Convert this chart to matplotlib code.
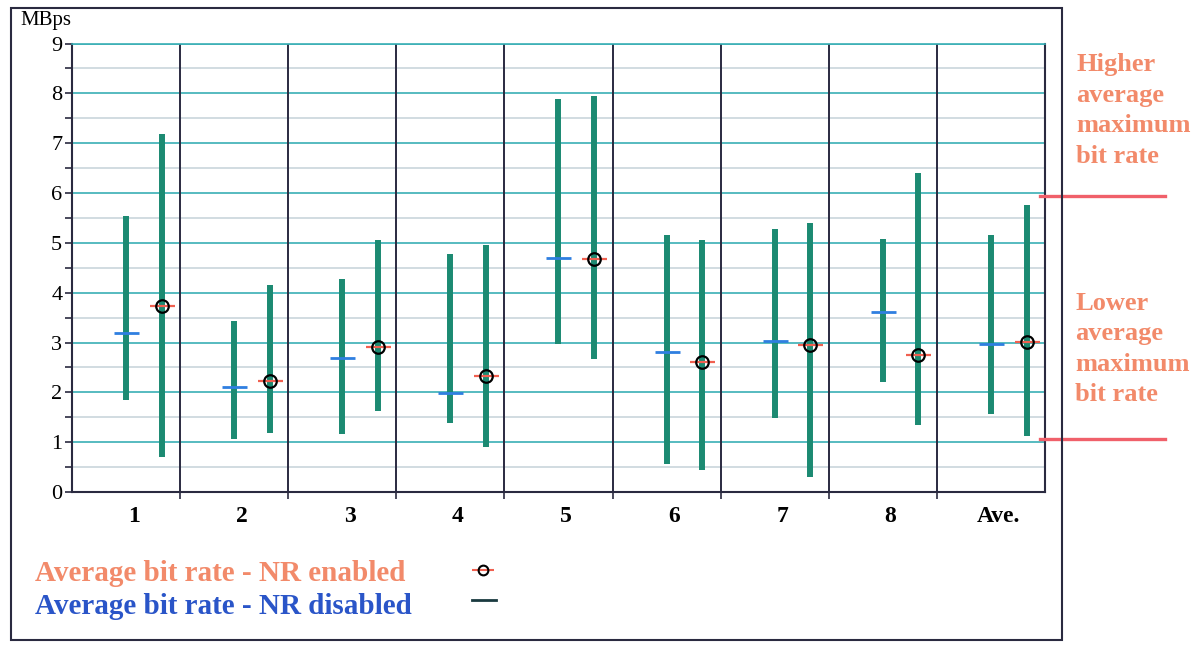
import numpy as np
import matplotlib
matplotlib.use('Agg')
import matplotlib.pyplot as plt
from matplotlib.lines import Line2D
from matplotlib.patches import Rectangle

# ── Data ──────────────────────────────────────────────────────────────────────
CATEGORIES = ['1', '2', '3', '4', '5', '6', '7', '8', 'Ave.']

# NR disabled: min / max / average bit rate (MBps)
LO_OFF  = [1.85, 1.07, 1.16, 1.39, 2.98, 0.56, 1.49, 2.21, 1.56]
HI_OFF  = [5.54, 3.44, 4.28, 4.78, 7.88, 5.16, 5.28, 5.07, 5.16]
AVG_OFF = [3.19, 2.10, 2.69, 1.98, 4.70, 2.81, 3.03, 3.61, 2.98]

# NR enabled: min / max / average bit rate (MBps)
LO_ON   = [0.71, 1.18, 1.63, 0.90, 2.67, 0.44, 0.30, 1.35, 1.12]
HI_ON   = [7.19, 4.16, 5.05, 4.96, 7.95, 5.05, 5.39, 6.41, 5.75]
AVG_ON  = [3.73, 2.23, 2.92, 2.33, 4.67, 2.60, 2.96, 2.74, 3.02]

# levels marked on the right
HIGHER_MAX = 5.95
LOWER_MAX  = 1.07

# ── Style ─────────────────────────────────────────────────────────────────────
BAR_COL   = '#1C8A72'
BLUE      = '#2F7FE0'
RED       = '#F06050'
SALMON    = '#F28A6A'
LEG_BLUE  = '#2A55C8'
GRID_MAJ  = '#3AAFB5'
GRID_MIN  = '#C9D6DC'
DARK      = '#2A2A40'
SERIF     = 'Liberation Serif'

plt.rcParams['font.family'] = SERIF

fig = plt.figure(figsize=(11.96, 6.45), dpi=100)
ax = fig.add_axes([0.0602, 0.2372, 0.8135, 0.6953])

x = np.arange(1, len(CATEGORIES) + 1)
x_off = x + 0.0
x_on = x + 0.33

# min-max bars
ax.vlines(x_off, LO_OFF, HI_OFF, color=BAR_COL, lw=4.3, zorder=3)
ax.vlines(x_on, LO_ON, HI_ON, color=BAR_COL, lw=4.3, zorder=3)

# averages
ax.plot(x_off, AVG_OFF, ls='none', marker='_', ms=18, mew=2, color=BLUE, zorder=4)
ax.plot(x_on, AVG_ON, ls='none', marker='_', ms=18, mew=1.6, color=RED, zorder=4)
ax.plot(x_on, AVG_ON, ls='none', marker='o', ms=9, mew=1.6, mfc='none',
        mec='black', zorder=5)

# group separators
for b in x[:-1] + 0.5:
    ax.axvline(b, color=DARK, lw=1.4, zorder=2)

ax.set_xlim(0.5, len(CATEGORIES) + 0.5)
ax.set_ylim(0, 9)

# grid
ax.set_yticks(np.arange(0, 10, 1))
ax.set_yticks(np.arange(0.5, 9, 1), minor=True)
ax.grid(axis='y', which='major', color=GRID_MAJ, lw=1.2, zorder=1)
ax.grid(axis='y', which='minor', color=GRID_MIN, lw=1.2, zorder=1)
ax.tick_params(axis='y', which='both', direction='out', length=5, width=1.2,
               color=DARK, labelsize=16, pad=2)

# x ticks: marks at separators, labels at group centers
ax.set_xticks(x[:-1] + 0.5)
ax.set_xticklabels([])
ax.set_xticks(x + 0.07, minor=True)
ax.set_xticklabels(CATEGORIES, minor=True, fontsize=17, fontweight='bold')
ax.tick_params(axis='x', which='major', direction='out', length=5, width=1.2, color=DARK)
ax.tick_params(axis='x', which='minor', length=0, pad=10)

for s in ['left', 'bottom', 'right']:
    ax.spines[s].set_color(DARK)
    ax.spines[s].set_linewidth(1.5)
ax.spines['top'].set_color(GRID_MAJ)
ax.spines['top'].set_linewidth(1.2)

ax.text(-0.027, 1.03, 'MBps', transform=ax.transAxes, fontsize=15,
        ha='center', va='bottom')

# right-hand markers for higher / lower max rate
for lvl in [HIGHER_MAX, LOWER_MAX]:
    ax.plot([0.995, 1.123], [lvl, lvl], transform=ax.get_yaxis_transform(),
            color='#F0606A', lw=2.4, clip_on=False, zorder=6)

fig.text(0.900, 0.829, 'Higher\naverage\nmaximum\nbit rate', color=SALMON,
         fontsize=19, fontweight='bold', ha='left', va='center', linespacing=1.42)
fig.text(0.899, 0.459, 'Lower\naverage\nmaximum\nbit rate', color=SALMON,
         fontsize=19, fontweight='bold', ha='left', va='center', linespacing=1.42)

# outer frame
fig.add_artist(Rectangle((0.0092, 0.0078), 0.879, 0.98, transform=fig.transFigure,
                         fill=False, edgecolor=DARK, lw=1.5))

# legend
fig.text(0.029, 0.111, 'Average bit rate - NR enabled', color=SALMON,
         fontsize=21, fontweight='bold', ha='left', va='center')
fig.text(0.029, 0.060, 'Average bit rate - NR disabled', color=LEG_BLUE,
         fontsize=21, fontweight='bold', ha='left', va='center')
fig.add_artist(Line2D([0.404], [0.116], transform=fig.transFigure, ls='none',
                      marker='_', ms=16, mew=1.5, color=RED))
fig.add_artist(Line2D([0.404], [0.116], transform=fig.transFigure, ls='none',
                      marker='o', ms=7, mew=1.5, mfc='none', mec='black'))
fig.add_artist(Line2D([0.395, 0.415], [0.070, 0.070], transform=fig.transFigure,
                      color='#1A3A40', lw=2))

plt.savefig('out.png', dpi=100)
plt.close()
